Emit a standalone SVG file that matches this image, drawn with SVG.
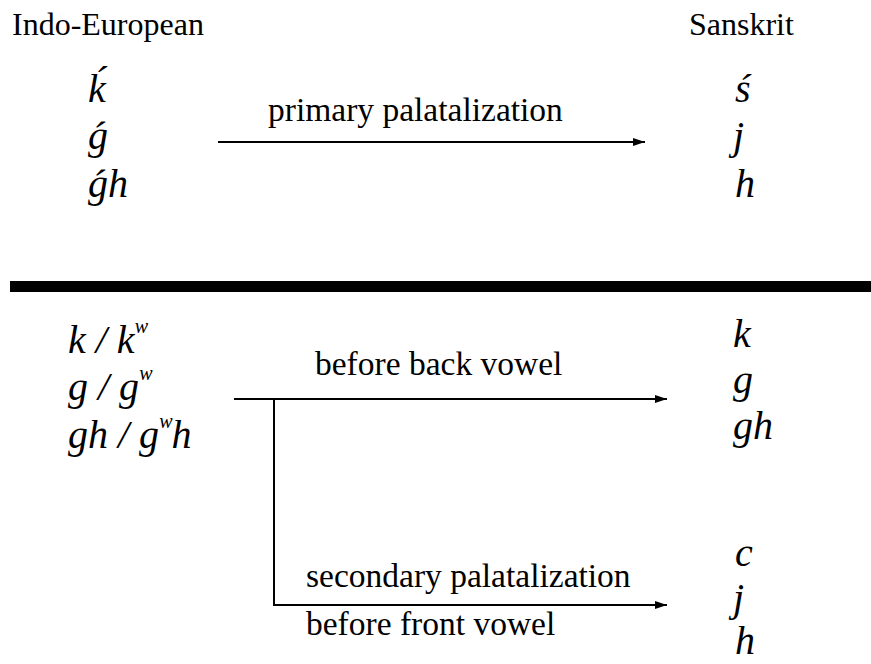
<svg xmlns="http://www.w3.org/2000/svg" width="871" height="664" viewBox="0 0 871 664">
<style>
  .hdr { font-family: "Liberation Serif", "DejaVu Serif", serif; font-size: 32px; fill: #000; }
  .lbl { font-family: "Liberation Serif", "DejaVu Serif", serif; font-size: 33.5px; fill: #000; }
  .sym { font-family: "Liberation Serif", "DejaVu Serif", serif; font-style: italic; font-size: 40px; fill: #000; }
  .sup { font-size: 20px; }
  .ln { stroke: #000; stroke-width: 2; fill: none; }
</style>
<defs>
  <marker id="ah" markerUnits="userSpaceOnUse" markerWidth="12" markerHeight="8" refX="12" refY="4" orient="auto">
    <path d="M0,0 L12,4 L0,8 z" fill="#000"/>
  </marker>
</defs>
<rect width="871" height="664" fill="#fff"/>

<g id="header-ie"><text class="hdr" x="12" y="35">Indo-European</text></g>
<g id="header-sanskrit"><text class="hdr" x="689" y="35">Sanskrit</text></g>

<g id="ie-palatovelars">
  <text class="sym" x="88" y="102">ḱ</text>
  <text class="sym" x="88" y="149">ǵ</text>
  <text class="sym" x="88" y="197">ǵh</text>
</g>
<g id="sk-palatals">
  <text class="sym" x="735" y="102">ś</text>
  <text class="sym" x="733" y="149">j</text>
  <text class="sym" x="735" y="197">h</text>
</g>

<rect id="divider" x="10" y="281" width="861" height="11" fill="#000"/>

<g id="ie-velars">
  <text class="sym" x="68" y="353">k / k<tspan class="sup" dy="-20">w</tspan></text>
  <text class="sym" x="68" y="400">g / g<tspan class="sup" dy="-20">w</tspan></text>
  <text class="sym" x="68" y="448">gh / g<tspan class="sup" dy="-20">w</tspan><tspan dy="20" dx="-1">h</tspan></text>
</g>
<g id="sk-velars">
  <text class="sym" x="733" y="347">k</text>
  <text class="sym" x="733" y="393">g</text>
  <text class="sym" x="733" y="439">gh</text>
</g>
<g id="sk-palatals-secondary">
  <text class="sym" x="735" y="566">c</text>
  <text class="sym" x="733" y="611">j</text>
  <text class="sym" x="735" y="654">h</text>
</g>

<g id="connectors">
  <line class="ln" x1="218" y1="142" x2="645" y2="142" marker-end="url(#ah)"/>
  <text class="lbl" x="268" y="121">primary palatalization</text>
  <line class="ln" x1="234" y1="399" x2="667" y2="399" marker-end="url(#ah)"/>
  <text class="lbl" x="315" y="375">before back vowel</text>
  <line class="ln" x1="274" y1="399" x2="274" y2="605"/>
  <line class="ln" x1="273" y1="605" x2="667" y2="605" marker-end="url(#ah)"/>
  <text class="lbl" x="306" y="587">secondary palatalization</text>
  <text class="lbl" x="306" y="635">before front vowel</text>
</g>
</svg>
